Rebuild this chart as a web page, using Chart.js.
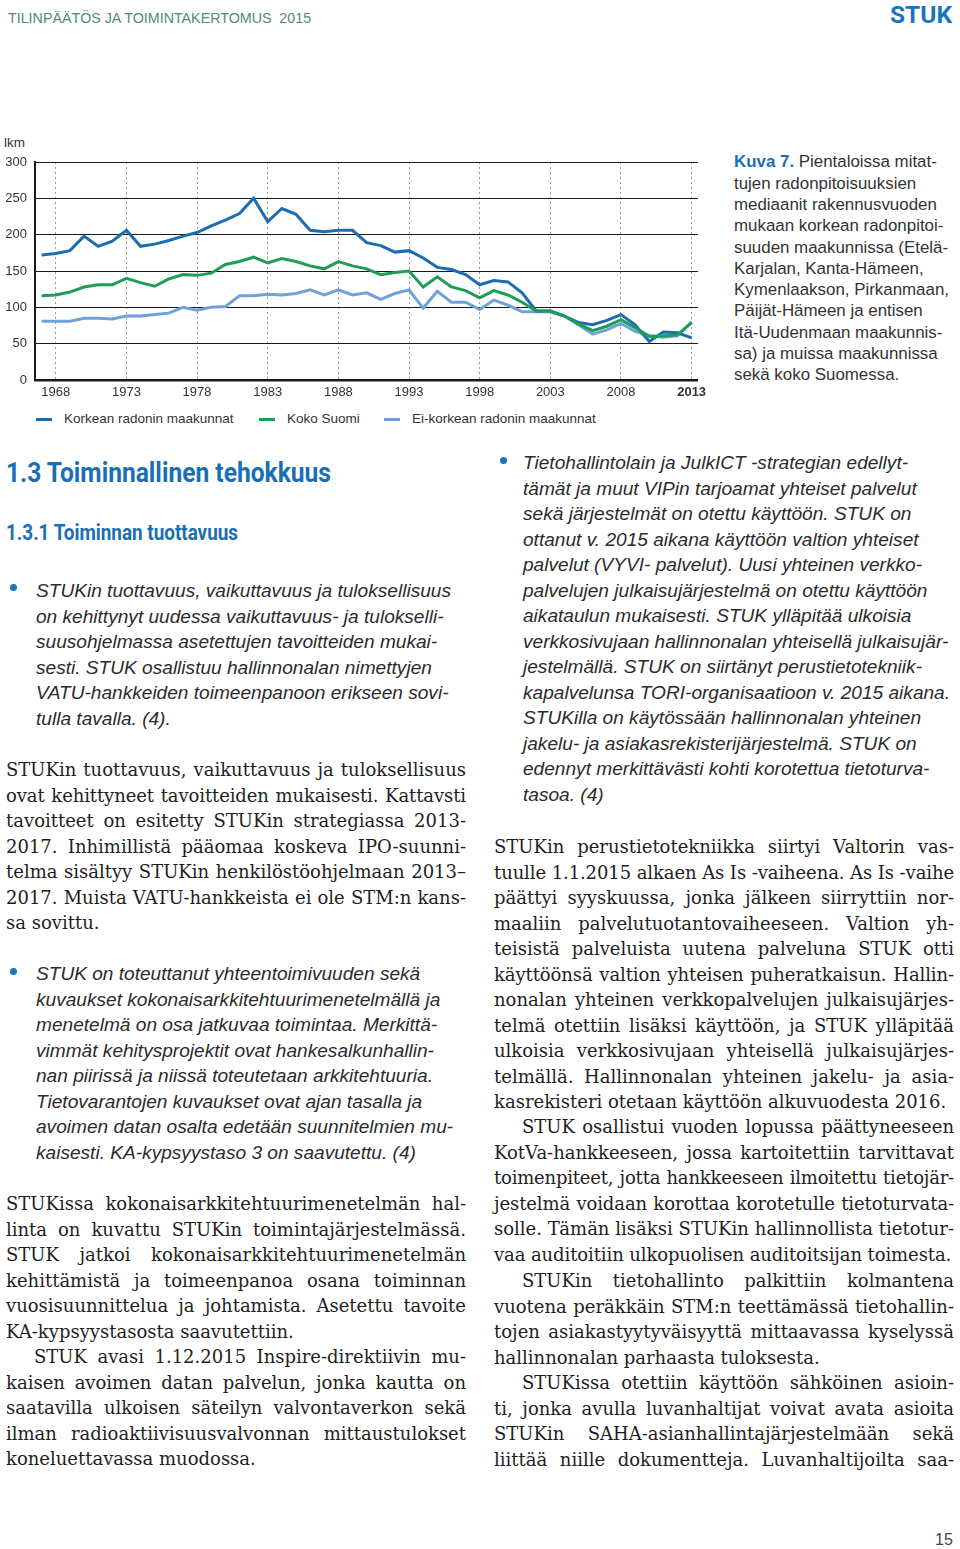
<!DOCTYPE html>
<html lang="fi">
<head>
<meta charset="utf-8">
<title>Tilinpäätös ja toimintakertomus 2015</title>
<script src="https://cdn.jsdelivr.net/npm/chart.js@4.4.1/dist/chart.umd.min.js"></script>
<style>
  html, body { margin: 0; padding: 0; background: #fff; }
  #page { position: relative; width: 960px; height: 1549px; overflow: hidden;
          font-family: "Liberation Sans", Arial, sans-serif; color: #333; }
  .abs { position: absolute; white-space: nowrap; }
  .fit { display: inline-block; transform-origin: 0 50%; }
  .ln { position: absolute; height: 25.5px; line-height: 25.5px; }
  .serif { font-family: "DejaVu Serif", serif; font-size: 18px; color: #1e1e1e; }
  .ital { font-style: italic; font-size: 19.1px; color: #2b2b2b; white-space: nowrap; }
  .just { text-align: justify; text-align-last: justify; }
  .dot { position: absolute; width: 7px; height: 7px; border-radius: 50%; background: #1a72b8; }
  .cap { position: absolute; left: 734px; height: 21.3px; line-height: 21.3px; font-size: 16.9px; color: #333; white-space: nowrap; }
  .head { font-family: Roboto, "Liberation Sans", sans-serif; font-weight: bold; color: #1a6fb4; }
  #chartBox { position: absolute; left: 0; top: 130px; width: 720px; height: 275px; }
  .leg { position: absolute; top: 410px; height: 18px; line-height: 18px; font-size: 13.5px; color: #333; white-space: nowrap; }
  .leg i { position: absolute; top: 8px; width: 16px; height: 3px; }
</style>
</head>
<body>
<div id="page">
  <div class="abs" style="left:8px; top:9px; height:18px; line-height:18px; font-size:14px; color:#4e8c78; white-space:pre;"><span class="fit" data-w="303">TILINPÄÄTÖS JA TOIMINTAKERTOMUS  2015</span></div>
  <div class="abs head" style="left:890px; top:2px; height:26px; line-height:26px; font-size:24px; color:#1976bd;"><span class="fit" data-w="62">STUK</span></div>

  <div class="abs" style="left:4px; top:135px; height:16px; line-height:16px; font-size:13.5px; color:#333;">lkm</div>
  <div id="chartBox"><canvas id="radonChart"></canvas></div>

  <div class="abs head" style="left:6px; top:457px; height:32px; line-height:32px; font-size:28px;"><span class="fit" data-w="325">1.3 Toiminnallinen tehokkuus</span></div>
  <div class="abs head" style="left:6px; top:520px; height:26px; line-height:26px; font-size:22px;"><span class="fit" data-w="232">1.3.1 Toiminnan tuottavuus</span></div>

  <div class="dot" style="left:10px; top:584px;"></div>
  <div class="dot" style="left:10px; top:968px;"></div>
  <div class="dot" style="left:500px; top:457px;"></div>

  <div class="abs" style="left:935px; top:1531px; height:18px; line-height:18px; font-size:16px; color:#444;">15</div>
</div>

<script>
// rakennusvuodet ja mediaanit (Bq/m3), luettu kuvasta
const years = [1967, 1968, 1969, 1970, 1971, 1972, 1973, 1974, 1975, 1976, 1977, 1978,
  1979, 1980, 1981, 1982, 1983, 1984, 1985, 1986, 1987, 1988, 1989, 1990, 1991, 1992,
  1993, 1994, 1995, 1996, 1997, 1998, 1999, 2000, 2001, 2002, 2003, 2004, 2005, 2006,
  2007, 2008, 2009, 2010, 2011, 2012, 2013];
const korkea = [172, 174, 178, 198, 184, 191, 206, 184, 187, 192, 198, 203, 212, 220, 229,
  250, 218, 236, 228, 206, 204, 206, 206, 189, 185, 176, 178, 168, 155, 152, 145, 131, 137,
  135, 120, 95, 95, 88, 79, 76, 82, 90, 76, 53, 66, 65, 58];
const kokoSuomi = [116, 117, 121, 128, 131, 131, 140, 134, 129, 139, 145, 144, 147, 159, 163,
  169, 161, 167, 163, 157, 153, 163, 157, 153, 145, 148, 150, 128, 142, 128, 123, 113, 123,
  117, 107, 95, 95, 88, 77, 68, 74, 83, 72, 60, 61, 62, 79];
const eiKorkea = [81, 81, 81, 85, 85, 84, 88, 88, 90, 92, 100, 96, 100, 101, 116, 116, 118,
  117, 119, 124, 117, 124, 117, 120, 111, 119, 124, 99, 122, 107, 107, 97, 110, 103, 94, 94,
  94, 88, 76, 63, 69, 78, 67, 61, 59, 61, 80];
const xTicks = [1968, 1973, 1978, 1983, 1988, 1993, 1998, 2003, 2008, 2013];
const yTicks = [0, 50, 100, 150, 200, 250, 300];

const seriesNames = ['Korkean radonin maakunnat', 'Koko Suomi', 'Ei-korkean radonin maakunnat'];
const seriesColors = ['#1b6db1', '#1f9d55', '#6fa2d6'];
const legendX = [36, 259, 384];

const fontFamily = '"Liberation Sans", Arial, sans-serif';
const toPoints = vals => years.map((yr, i) => ({ x: yr, y: vals[i] }));

const chart = new Chart(document.getElementById('radonChart'), {
  type: 'line',
  data: {
    datasets: [
      { label: seriesNames[0], data: toPoints(korkea), borderColor: seriesColors[0], order: 1 },
      { label: seriesNames[1], data: toPoints(kokoSuomi), borderColor: seriesColors[1], order: 0 },
      { label: seriesNames[2], data: toPoints(eiKorkea), borderColor: seriesColors[2], order: 2 }
    ]
  },
  options: {
    responsive: true,
    maintainAspectRatio: false,
    animation: false,
    // oikea reuna 22 px, jotta viimeinen vuosiluku mahtuu ja kuva-ala päättyy x=698
    layout: { padding: { top: 32, right: 22, left: 0, bottom: 0 } },
    elements: {
      point: { radius: 0 },
      line: { borderWidth: 3, tension: 0, fill: false }
    },
    plugins: { legend: { display: false }, tooltip: { enabled: false } },
    scales: {
      x: {
        type: 'linear',
        min: 1966.53,
        max: 2013.45,
        afterBuildTicks: axis => { axis.ticks = xTicks.map(v => ({ value: v })); },
        afterFit: axis => { axis.height = 25; },
        grid: { color: '#9a9a9a', lineWidth: 1, drawTicks: false },
        border: { display: false, dash: [2, 3] },
        ticks: {
          padding: 5,
          color: '#333',
          maxRotation: 0,
          autoSkip: false,
          callback: v => String(v),
          font: c => ({ family: fontFamily, size: 13, weight: c.tick && c.tick.value === 2013 ? 'bold' : 'normal' })
        }
      },
      y: {
        min: 0,
        max: 300,
        afterBuildTicks: axis => { axis.ticks = yTicks.map(v => ({ value: v })); },
        afterFit: axis => { axis.width = 35; },
        grid: { color: '#1a1a1a', lineWidth: c => (c.tick && c.tick.value === 0 ? 2.5 : 1), drawTicks: false },
        border: { display: true, color: '#1a1a1a', width: 2 },
        ticks: { padding: 8, color: '#333', font: { family: fontFamily, size: 13 } }
      }
    }
  }
});

const page = document.getElementById('page');

// selite
chart.data.datasets.forEach((ds, i) => {
  const el = document.createElement('div');
  el.className = 'leg';
  el.style.left = legendX[i] + 'px';
  el.style.paddingLeft = '28px';
  el.innerHTML = '<i style="left:0;background:' + ds.borderColor + '"></i>';
  el.appendChild(document.createTextNode(ds.label));
  page.appendChild(el);
});

// kuvateksti
const caption = [
  'Pientaloissa mitat-',
  'tujen radonpitoisuuksien',
  'mediaanit rakennusvuoden',
  'mukaan korkean radonpitoi-',
  'suuden maakunnissa (Etelä-',
  'Karjalan, Kanta-Hämeen,',
  'Kymenlaakson, Pirkanmaan,',
  'Päijät-Hämeen ja entisen',
  'Itä-Uudenmaan maakunnis-',
  'sa) ja muissa maakunnissa',
  'sekä koko Suomessa.'
];
caption.forEach((t, i) => {
  const el = document.createElement('div');
  el.className = 'cap';
  el.style.top = (162 + i * 21.3 - 10.65) + 'px';
  if (i === 0) {
    el.innerHTML = '<b style="color:#1a6fb4">Kuva 7.</b> ';
  }
  el.appendChild(document.createTextNode(t));
  page.appendChild(el);
});

function addLines(cfg) {
  cfg.lines.forEach((text, i) => {
    const el = document.createElement('div');
    const indent = cfg.indent && i === 0 ? 28 : 0;
    const last = i === cfg.lines.length - 1;
    el.className = 'ln ' + cfg.cls + (cfg.justify && (!last || cfg.openEnd) ? ' just' : '');
    el.style.left = (cfg.x + indent) + 'px';
    el.style.top = (cfg.y + i * 25.5 - 12.75) + 'px';
    if (cfg.justify) el.style.width = (460 - indent) + 'px';
    el.textContent = text;
    page.appendChild(el);
  });
}

addLines({ cls: 'ital', x: 36, y: 591, lines: [
  'STUKin tuottavuus, vaikuttavuus ja tuloksellisuus',
  'on kehittynyt uudessa vaikuttavuus- ja tulokselli-',
  'suusohjelmassa asetettujen tavoitteiden mukai-',
  'sesti. STUK osallistuu hallinnonalan nimettyjen',
  'VATU-hankkeiden toimeenpanoon erikseen sovi-',
  'tulla tavalla. (4).'
] });

addLines({ cls: 'serif', x: 6, y: 770, justify: true, lines: [
  'STUKin tuottavuus, vaikuttavuus ja tuloksellisuus',
  'ovat kehittyneet tavoitteiden mukaisesti. Kattavsti',
  'tavoitteet on esitetty STUKin strategiassa 2013-',
  '2017. Inhimillistä pääomaa koskeva IPO-suunni-',
  'telma sisältyy STUKin henkilöstöohjelmaan 2013–',
  '2017. Muista VATU-hankkeista ei ole STM:n kans-',
  'sa sovittu.'
] });

addLines({ cls: 'ital', x: 36, y: 974, lines: [
  'STUK on toteuttanut yhteentoimivuuden sekä',
  'kuvaukset kokonaisarkkitehtuurimenetelmällä ja',
  'menetelmä on osa jatkuvaa toimintaa. Merkittä-',
  'vimmät kehitysprojektit ovat hankesalkunhallin-',
  'nan piirissä ja niissä toteutetaan arkkitehtuuria.',
  'Tietovarantojen kuvaukset ovat ajan tasalla ja',
  'avoimen datan osalta edetään suunnitelmien mu-',
  'kaisesti. KA-kypsyystaso 3 on saavutettu. (4)'
] });

addLines({ cls: 'serif', x: 6, y: 1204, justify: true, lines: [
  'STUKissa kokonaisarkkitehtuurimenetelmän hal-',
  'linta on kuvattu STUKin toimintajärjestelmässä.',
  'STUK jatkoi kokonaisarkkitehtuurimenetelmän',
  'kehittämistä ja toimeenpanoa osana toiminnan',
  'vuosisuunnittelua ja johtamista. Asetettu tavoite',
  'KA-kypsyystasosta saavutettiin.'
] });

addLines({ cls: 'serif', x: 6, y: 1357, justify: true, indent: true, lines: [
  'STUK avasi 1.12.2015 Inspire-direktiivin mu-',
  'kaisen avoimen datan palvelun, jonka kautta on',
  'saatavilla ulkoisen säteilyn valvontaverkon sekä',
  'ilman radioaktiivisuusvalvonnan mittaustulokset',
  'koneluettavassa muodossa.'
] });

addLines({ cls: 'ital', x: 523, y: 463, lines: [
  'Tietohallintolain ja JulkICT -strategian edellyt-',
  'tämät ja muut VIPin tarjoamat yhteiset palvelut',
  'sekä järjestelmät on otettu käyttöön. STUK on',
  'ottanut v. 2015 aikana käyttöön valtion yhteiset',
  'palvelut (VYVI- palvelut). Uusi yhteinen verkko-',
  'palvelujen julkaisujärjestelmä on otettu käyttöön',
  'aikataulun mukaisesti. STUK ylläpitää ulkoisia',
  'verkkosivujaan hallinnonalan yhteisellä julkaisujär-',
  'jestelmällä. STUK on siirtänyt perustietotekniik-',
  'kapalvelunsa TORI-organisaatioon v. 2015 aikana.',
  'STUKilla on käytössään hallinnonalan yhteinen',
  'jakelu- ja asiakasrekisterijärjestelmä. STUK on',
  'edennyt merkittävästi kohti korotettua tietoturva-',
  'tasoa. (4)'
] });

addLines({ cls: 'serif', x: 494, y: 847, justify: true, lines: [
  'STUKin perustietotekniikka siirtyi Valtorin vas-',
  'tuulle 1.1.2015 alkaen As Is -vaiheena. As Is -vaihe',
  'päättyi syyskuussa, jonka jälkeen siirryttiin nor-',
  'maaliin palvelutuotantovaiheeseen. Valtion yh-',
  'teisistä palveluista uutena palveluna STUK otti',
  'käyttöönsä valtion yhteisen puheratkaisun. Hallin-',
  'nonalan yhteinen verkkopalvelujen julkaisujärjes-',
  'telmä otettiin lisäksi käyttöön, ja STUK ylläpitää',
  'ulkoisia verkkosivujaan yhteisellä julkaisujärjes-',
  'telmällä. Hallinnonalan yhteinen jakelu- ja asia-',
  'kasrekisteri otetaan käyttöön alkuvuodesta 2016.'
] });

addLines({ cls: 'serif', x: 494, y: 1127, justify: true, indent: true, lines: [
  'STUK osallistui vuoden lopussa päättyneeseen',
  'KotVa-hankkeeseen, jossa kartoitettiin tarvittavat',
  'toimenpiteet, jotta hankkeeseen ilmoitettu tietojär-',
  'jestelmä voidaan korottaa korotetulle tietoturvata-',
  'solle. Tämän lisäksi STUKin hallinnollista tietotur-',
  'vaa auditoitiin ulkopuolisen auditoitsijan toimesta.'
] });

addLines({ cls: 'serif', x: 494, y: 1281, justify: true, indent: true, lines: [
  'STUKin tietohallinto palkittiin kolmantena',
  'vuotena peräkkäin STM:n teettämässä tietohallin-',
  'tojen asiakastyytyväisyyttä mittaavassa kyselyssä',
  'hallinnonalan parhaasta tuloksesta.'
] });

addLines({ cls: 'serif', x: 494, y: 1383, justify: true, indent: true, openEnd: true, lines: [
  'STUKissa otettiin käyttöön sähköinen asioin-',
  'ti, jonka avulla luvanhaltijat voivat avata asioita',
  'STUKin SAHA-asianhallintajärjestelmään sekä',
  'liittää niille dokumentteja. Luvanhaltijoilta saa-'
] });

// tiivistetään rivit, jotka eivät mahdu leveyteen
document.querySelectorAll('.ln.serif').forEach(el => {
  let ls = 0;
  while (el.scrollHeight > 30 && ls > -2) {
    ls -= 0.1;
    el.style.letterSpacing = ls.toFixed(1) + 'px';
  }
});

document.querySelectorAll('.fit').forEach(el => {
  const w = el.getBoundingClientRect().width;
  el.style.transform = 'scaleX(' + (Number(el.dataset.w) / w).toFixed(3) + ')';
});
</script>
</body>
</html>
